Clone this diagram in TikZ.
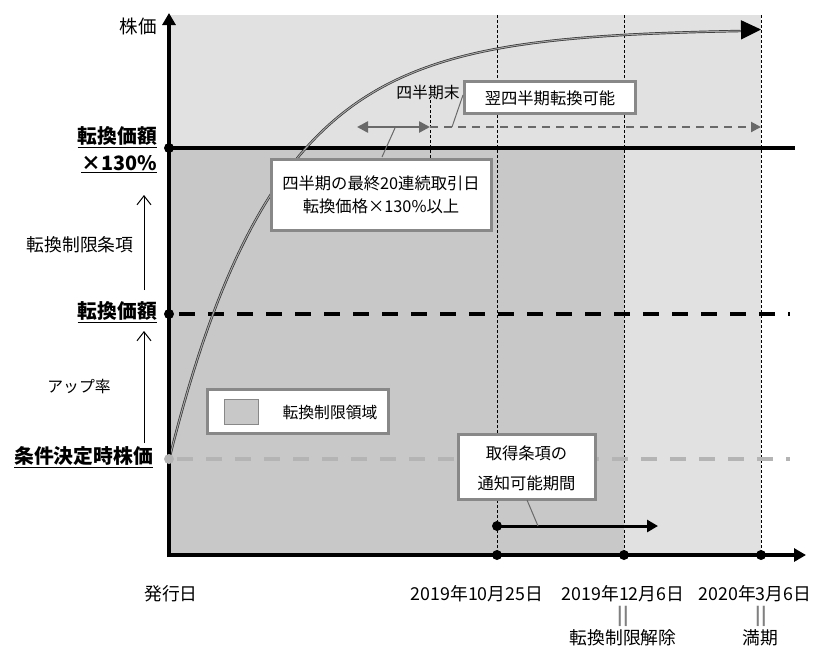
\documentclass[tikz,border=0pt]{standalone}
\usepackage{fontspec}
\setmainfont{Noto Sans CJK JP}
\usetikzlibrary{arrows.meta}
\definecolor{bglight}{RGB}{225,225,225}
\definecolor{bgdark}{RGB}{200,200,200}
\definecolor{boxedge}{RGB}{136,136,136}
\definecolor{midgray}{RGB}{105,105,105}
\definecolor{lgray}{RGB}{180,180,180}
\begin{document}
\begin{tikzpicture}[x=1pt,y=-1pt,
  txt/.style={inner sep=0pt,font=\fontsize{16.3}{19}\selectfont},
  txtl/.style={inner sep=0pt,font=\fontsize{17.8}{21}\selectfont},
  txts/.style={inner sep=0pt,font=\fontsize{15.8}{19}\selectfont},
  big/.style={inner sep=0pt,font=\fontsize{19.8}{23}\selectfont\bfseries},
  infobox/.style={draw=boxedge,line width=3pt,fill=white,inner sep=0pt},
  vdash/.style={black,line width=0.8pt,dash pattern=on 3pt off 2pt},
  dot/.style={circle,fill=black,inner sep=0pt,minimum size=10pt},
  thinarrow/.style={-{Straight Barb[length=9pt,width=14pt]},line width=1pt},
  lead/.style={midgray,line width=1pt}]
\useasboundingbox (0,0) rectangle (818,646);
% background regions
\fill[bglight] (169,15) rectangle (761,555);
\fill[bgdark] (169,148) rectangle (624,555);
% vertical dashed lines
\coordinate (v1t) at (497,15); \coordinate (v1b) at (497,555);
\coordinate (v2t) at (624,15); \coordinate (v2b) at (624,555);
\coordinate (v3t) at (761,15); \coordinate (v3b) at (761,555);
\coordinate (qt) at (430,100); \coordinate (qb) at (430,158);
\draw[vdash] (v1t) -- (v1b);
\draw[vdash] (v2t) -- (v2b);
\draw[vdash] (v3t) -- (v3b);
\draw[vdash] (qt) -- (qb);
% horizontal levels
\coordinate (h1s) at (169,148); \coordinate (h1e) at (795,148);
\coordinate (h2s) at (169,314); \coordinate (h2e) at (790,314);
\coordinate (h3s) at (169,459); \coordinate (h3e) at (790,459);
\draw[line width=4pt] (h1s) -- (h1e);
\draw[line width=4pt,dash pattern=on 16pt off 13pt,dash phase=-10pt] (h2s) -- (h2e);
\draw[lgray,line width=4pt,dash pattern=on 16pt off 13pt,dash phase=-8pt] (h3s) -- (h3e);
% curve
\draw[draw=black!80,double=black!35,double distance=1pt,line width=0.7pt]
  plot[domain=169:745,samples=120] (\x,{460-431*(1-exp(-0.0094*(\x-169)))});
\coordinate (ca) at (742,29.8);
\coordinate (cb) at (761,29.5);
\draw[-{Triangle[length=20pt,width=19pt]},line width=1.5pt] (ca) -- (cb);
% axes
\coordinate (o) at (169,555);
\coordinate (ytip) at (169,13);
\coordinate (xtip) at (806,555);
\draw[line width=4.5pt,-{Triangle[length=12pt,width=13pt]}] (169,557) -- (ytip);
\draw[line width=4pt,-{Triangle[length=12pt,width=13pt]}] (167,555) -- (xtip);
% dots
\node[dot] (d130) at (169,148) {};
\node[dot] (dconv) at (169,314) {};
\node[dot,fill=lgray] (dinit) at (169,459) {};
\node[dot] (dx1) at (497,555) {};
\node[dot] (dx2) at (624,555) {};
\node[dot] (dx3) at (761,555) {};
\node[dot] (dnotice) at (497,526) {};
\coordinate (ntip) at (658,526);
\draw[line width=3pt,-{Triangle[length=11pt,width=12pt]}] (dnotice.center) -- (ntip);
% left labels
\node[inner sep=0pt,font=\fontsize{18.5}{21}\selectfont,anchor=east] (kabuka) at (157,26) {株価};
\node[big,anchor=east] (lab130a) at (157,137) {\underline{転換価額}};
\node[big,anchor=east] (lab130b) at (157,164) {\underline{×130\%}};
\node[big,anchor=east] (labconv) at (157,312) {\underline{転換価額}};
\node[big,anchor=east] (labinit) at (153,457) {\underline{条件決定時株価}};
\node[txtl] (restrict) at (80,245) {転換制限条項};
\node[txts] (uprate) at (79,387) {アップ率};
\coordinate (a1s) at (144,290); \coordinate (a1e) at (144,195);
\coordinate (a2s) at (144,443); \coordinate (a2e) at (144,331);
\draw[thinarrow] (a1s) -- (a1e);
\draw[thinarrow] (a2s) -- (a2e);
% legend
\node[infobox,minimum width=181pt,minimum height=44pt] (legend) at (297.5,411) {};
\node[draw=boxedge,line width=1.5pt,fill=bgdark,minimum width=34pt,minimum height=25pt,inner sep=0pt] (legsw) at (241.5,412) {};
\node[txts] (legtxt) at (330,413) {転換制限領域};
% quarter box
\node[infobox,minimum width=220pt,minimum height=71pt] (qbox) at (381,194.5) {};
\node[txt,align=center] (qtext) at (381,195) {四半期の最終20連続取引日\\[4pt]転換価格×130\%以上};
% quarter-end arrow
\coordinate (qa) at (357,127); \coordinate (qe) at (430,127);
\draw[midgray,line width=2.5pt,{Triangle[length=11pt,width=11pt]}-{Triangle[length=11pt,width=11pt]}] (qa) -- (qe);
\node[txts] (qend) at (428,93) {四半期末};
\coordinate (qlead) at (395,128);
\draw[lead] (382,157) -- (qlead);
% next quarter box
\node[infobox,minimum width=171pt,minimum height=32pt] (nbox) at (549.5,97.5) {};
\node[txt] (ntext) at (550,98) {翌四半期転換可能};
\coordinate (nd) at (761,127);
\draw[midgray,line width=2pt,dash pattern=on 8pt off 6pt,-{Triangle[length=10pt,width=10pt]}] (qe) -- (nd);
\coordinate (nlead) at (452,127);
\draw[lead] (463,95) -- (nlead);
% notice box
\node[infobox,minimum width=137pt,minimum height=65pt] (obox) at (526.5,466.5) {};
\node[txt,align=center] (otext) at (526.5,468) {取得条項の\\[11pt]通知可能期間};
\coordinate (olead) at (538,526);
\draw[lead] (527,500) -- (olead);
% bottom labels
\node[txtl] (issue) at (171,594) {発行日};
\node[txtl] (date1) at (477,594) {2019年10月25日};
\node[txtl] (date2) at (623,594) {2019年12月6日};
\node[txtl] (date3) at (755,594) {2020年3月6日};
\node[txtl,text=gray,font=\fontsize{17.8}{21}\selectfont\bfseries] (eq2) at (623,616) {||};
\node[txtl,text=gray,font=\fontsize{17.8}{21}\selectfont\bfseries] (eq3) at (761,616) {||};
\node[txtl] (release) at (623,638) {転換制限解除};
\node[txtl] (maturity) at (760,638) {満期};
\end{tikzpicture}
\end{document}
